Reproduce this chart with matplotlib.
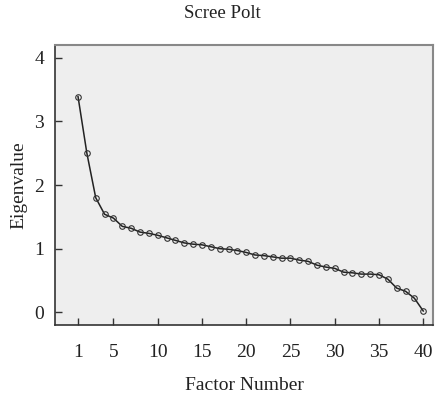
import matplotlib
matplotlib.use("Agg")
import matplotlib.pyplot as plt

plt.rcParams['font.family'] = ['Liberation Serif', 'DejaVu Serif']

factors = list(range(1, 41))
eigenvalues = [3.39, 2.50, 1.80, 1.54, 1.48, 1.35, 1.32, 1.26, 1.24, 1.21,
               1.17, 1.13, 1.09, 1.07, 1.06, 1.03, 1.00, 0.99, 0.97, 0.94,
               0.90, 0.89, 0.87, 0.85, 0.85, 0.82, 0.80, 0.74, 0.71, 0.69,
               0.63, 0.62, 0.60, 0.60, 0.59, 0.52, 0.38, 0.33, 0.22, 0.02]
xticks = [1, 5, 10, 15, 20, 25, 30, 35, 40]
yticks = [0, 1, 2, 3, 4]

fig = plt.figure(figsize=(4.44, 3.99), dpi=100)
ax = fig.add_axes([55/444, 1-325/399, 378/444, 280/399])
ax.set_facecolor('#eeeeee')

ax.plot(factors, eigenvalues, color='#222222', lw=1.1, marker='o', ms=4,
        mfc='none', mec='#333333', mew=0.8)

ax.set_xlim(-1.6, 41.1)
ax.set_ylim(-0.2, 4.2)
ax.set_xticks(xticks)
ax.set_yticks(yticks)
ax.tick_params(direction='in', length=5, width=1, labelsize=14, colors='#333333')
ax.tick_params(axis='x', pad=14)
ax.tick_params(axis='y', pad=8)
for lab in ax.get_xticklabels() + ax.get_yticklabels():
    lab.set_color('#222222')

for s in ['left', 'bottom']:
    ax.spines[s].set_color('#333333')
    ax.spines[s].set_linewidth(1.2)
for s in ['top', 'right']:
    ax.spines[s].set_color('#888888')
    ax.spines[s].set_linewidth(1.5)

ax.set_xlabel('Factor Number', fontsize=14, labelpad=11, color='#222222')
ax.set_ylabel('Eigenvalue', fontsize=14, labelpad=5, color='#222222')
fig.text(0.5, 1-14/399, 'Scree Polt', ha='center', va='center', fontsize=13.5,
         color='#222222')

fig.savefig('out.png', dpi=100)
